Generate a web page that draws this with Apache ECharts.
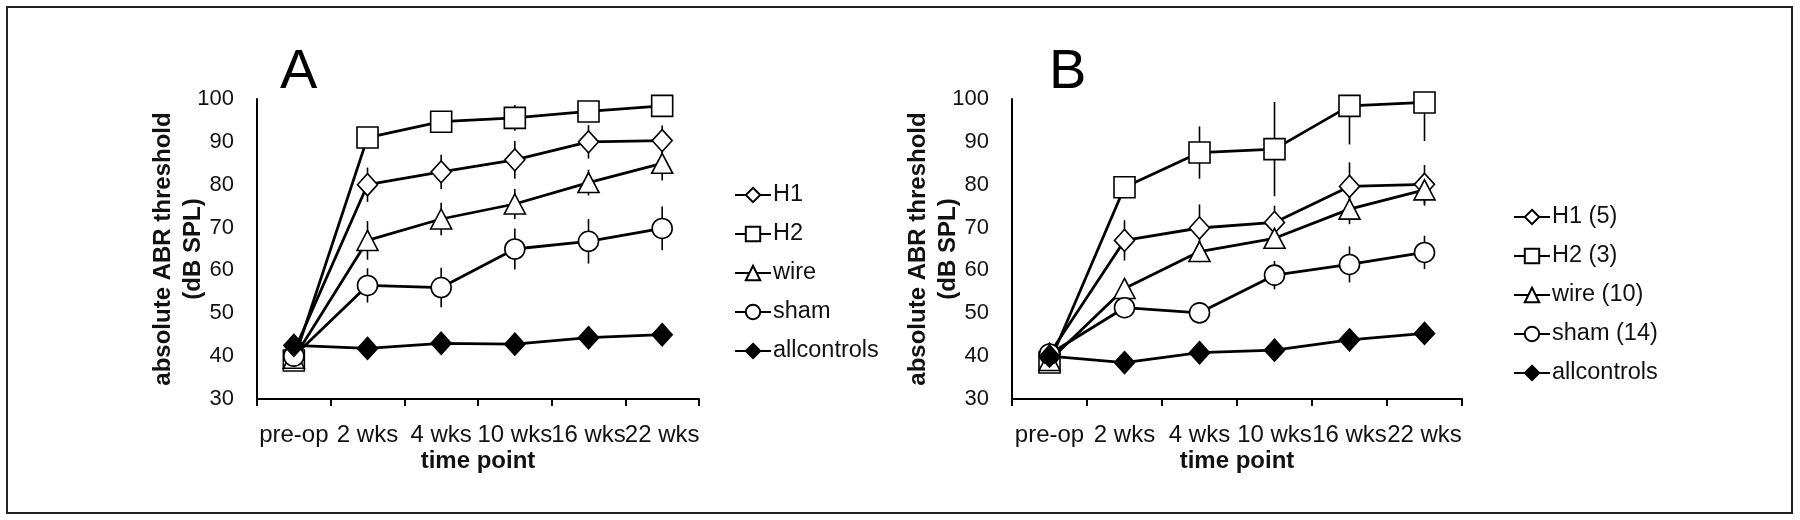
<!DOCTYPE html>
<html>
<head>
<meta charset="utf-8">
<script src="https://cdn.jsdelivr.net/npm/echarts@6/dist/echarts.min.js"></script>
<style>html,body{margin:0;padding:0;background:#fff}#c{width:1800px;height:520px}</style>
</head>
<body>
<div id="c"></div>
<script>
// ---- data ----
const categories = ['pre-op', '2 wks', '4 wks', '10 wks', '16 wks', '22 wks'];
const yTicks = [30, 40, 50, 60, 70, 80, 90, 100];

// Panel A
const A_H1 = [41, 80, 83, 85.8, 90, 90.3];
const A_H2 = [39, 91, 94.7, 95.6, 97.1, 98.4];
const A_wire = [39.5, 67, 72, 75.5, 80.5, 85];
const A_sham = [40, 56.5, 56, 65, 66.8, 69.8];
const A_ctrl = [42.5, 41.8, 43, 42.8, 44.3, 45];
const A_H1_err = [0, 4, 4, 4.4, 3.9, 3.5];
const A_H2_err = [0, 1.5, 1.5, 3, 2, 1.5];
const A_wire_err = [0, 4.5, 3.8, 3.5, 3, 4];
const A_sham_err = [0, 4, 4.6, 4.8, 5.2, 5.1];
const A_ctrl_err = [0, 1, 1, 1, 1, 1];

// Panel B
const B_H1 = [40.5, 67, 69.9, 71.2, 79.6, 80.1];
const B_H2 = [38.5, 79.4, 87.5, 88.3, 98.4, 99.2];
const B_wire = [39, 55.8, 64.4, 67.5, 74.3, 78.8];
const B_sham = [40.5, 51.3, 50.1, 58.9, 61.4, 64.2];
const B_ctrl = [40, 38.5, 40.8, 41.4, 43.8, 45.3];
const B_H1_err = [0, 4.7, 5.5, 3.9, 5.6, 4.5];
const B_H2_err = [0, 1.5, 6.1, 11, 9, 9];
const B_wire_err = [0, 2, 2.5, 2, 3.5, 3.7];
const B_sham_err = [0, 2, 1.5, 3.3, 4.2, 3.9];
const B_ctrl_err = [0, 1, 1, 1, 1, 1];

const namesA = ['H1', 'H2', 'wire', 'sham', 'allcontrols'];
const namesB = ['H1 (5)', 'H2 (3)', 'wire (10)', 'sham (14)', 'allcontrols'];

// ---- styling ----
const FONT = "'Liberation Sans', Arial, Helvetica, sans-serif";
const symbols = ['diamond', 'rect', 'triangle', 'circle', 'diamond'];
const symbolSizes = [[20, 22], [21, 21], [21, 20], [20, 20], [20, 22]];
const fills = ['#fff', '#fff', '#fff', '#fff', '#000'];

function lineSeries(name, data, k, axisIdx) {
  return {
    type: 'line', name: name, data: data,
    xAxisIndex: axisIdx, yAxisIndex: axisIdx,
    symbol: symbols[k], symbolSize: symbolSizes[k],
    showAllSymbol: true,
    lineStyle: { color: '#000', width: 2.8 },
    itemStyle: { color: fills[k], borderColor: '#000', borderWidth: 1.6 },
    z: 3 + k, animation: false, silent: true
  };
}
function errSeries(vals, errs, axisIdx) {
  return {
    type: 'custom', xAxisIndex: axisIdx, yAxisIndex: axisIdx, z: 1,
    silent: true, animation: false,
    data: categories.map((c, i) => [i, vals[i], errs[i]]),
    renderItem: function (params, api) {
      const x = api.value(0), v = api.value(1), e = api.value(2);
      if (!(e > 0)) return null;
      const p1 = api.coord([x, Math.min(v + e, 100)]);
      const p2 = api.coord([x, v - e]);
      return { type: 'line', shape: { x1: p1[0], y1: p1[1], x2: p2[0], y2: p2[1] },
               style: { stroke: '#000', lineWidth: 1.6 } };
    }
  };
}
function xAx(gi) {
  return {
    type: 'category', gridIndex: gi, data: categories, boundaryGap: true,
    axisLine: { lineStyle: { color: '#000', width: 2 } },
    axisTick: { show: true, alignWithLabel: false, length: 7, lineStyle: { color: '#000', width: 2 } },
    axisLabel: { color: '#111', fontSize: 24, fontFamily: FONT, margin: 24, interval: 0 },
    name: 'time point', nameLocation: 'middle', nameGap: 50, nameMoveOverlap: false,
    nameTextStyle: { color: '#111', fontSize: 24, fontWeight: 'bold', fontFamily: FONT },
    splitLine: { show: false }
  };
}
function yAx(gi) {
  return {
    type: 'value', gridIndex: gi, min: yTicks[0], max: yTicks[yTicks.length - 1], interval: 10,
    axisLine: { show: true, lineStyle: { color: '#000', width: 2 } },
    axisTick: { show: false },
    splitLine: { show: false },
    axisLabel: { color: '#111', fontSize: 22, fontFamily: FONT, margin: 23 },
    name: 'absolute ABR threshold\n(dB SPL)', nameLocation: 'middle', nameGap: 49, nameRotate: 90,
    nameMoveOverlap: false,
    nameTextStyle: { color: '#111', fontSize: 24, fontWeight: 'bold', fontFamily: FONT, lineHeight: 30 }
  };
}
function legend(names, left, top) {
  return {
    orient: 'vertical', left: left, top: top, data: names,
    itemWidth: 36, itemHeight: 18, itemGap: 15, selectedMode: false,
    textStyle: { color: '#111', fontSize: 23.5, fontFamily: FONT, lineHeight: 23, padding: [0, 0, 0, -3] },
    inactiveColor: '#000'
  };
}

const Avals = [A_H1, A_H2, A_wire, A_sham, A_ctrl];
const Aerrs = [A_H1_err, A_H2_err, A_wire_err, A_sham_err, A_ctrl_err];
const Bvals = [B_H1, B_H2, B_wire, B_sham, B_ctrl];
const Berrs = [B_H1_err, B_H2_err, B_wire_err, B_sham_err, B_ctrl_err];

const series = [];
Avals.forEach((v, k) => series.push(errSeries(v, Aerrs[k], 0)));
Bvals.forEach((v, k) => series.push(errSeries(v, Berrs[k], 1)));
Avals.forEach((v, k) => series.push(lineSeries(namesA[k], v, k, 0)));
Bvals.forEach((v, k) => series.push(lineSeries(namesB[k], v, k, 1)));

const chart = echarts.init(document.getElementById('c'), null, { renderer: 'canvas' });
chart.setOption({
  animation: false,
  backgroundColor: '#fff',
  textStyle: { fontFamily: FONT },
  title: [
    { text: 'A', left: 275, top: 40, textStyle: { fontSize: 56, fontWeight: 'normal', color: '#000', fontFamily: FONT } },
    { text: 'B', left: 1044, top: 40, textStyle: { fontSize: 56, fontWeight: 'normal', color: '#000', fontFamily: FONT } }
  ],
  grid: [
    { left: 257, top: 99, width: 442, height: 300, containLabel: false },
    { left: 1012, top: 99, width: 450, height: 300, containLabel: false }
  ],
  xAxis: [xAx(0), xAx(1)],
  yAxis: [yAx(0), yAx(1)],
  legend: [legend(namesA, 729, 178), legend(namesB, 1508, 200)],
  graphic: [
    { type: 'rect', shape: { x: 7, y: 7, width: 1785, height: 506 },
      style: { fill: null, stroke: '#222', lineWidth: 2 }, silent: true, z: 100 }
  ],
  series: series
});
</script>
</body>
</html>
